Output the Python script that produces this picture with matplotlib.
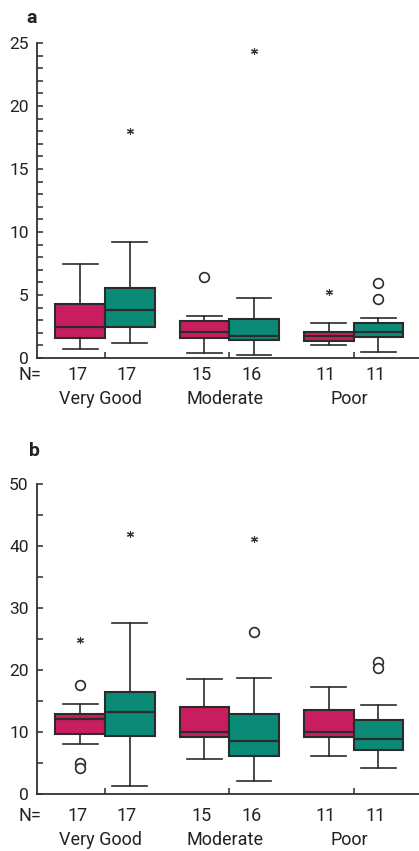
import numpy as np
import matplotlib
matplotlib.use("Agg")
import matplotlib.pyplot as plt
from matplotlib.ticker import MultipleLocator

plt.rcParams['font.family'] = ['Roboto', 'DejaVu Sans']

# Data
groups = ['Very Good', 'Moderate', 'Poor']
n_magenta = [17, 15, 11]
n_teal = [17, 16, 11]

# box stats per group: whisker low, Q1, median, Q3, whisker high
a_magenta = [[0.71, 1.61, 2.49, 4.26, 7.44],
             [0.40, 1.59, 2.09, 2.91, 3.36],
             [1.03, 1.32, 1.75, 2.09, 2.80]]
a_teal = [[1.22, 2.46, 3.81, 5.56, 9.20],
          [0.20, 1.43, 1.77, 3.07, 4.73],
          [0.48, 1.67, 2.09, 2.80, 3.15]]
b_magenta = [[8.12, 9.73, 12.1, 12.9, 14.5],
             [5.65, 9.14, 9.95, 14.0, 18.6],
             [6.18, 9.14, 9.95, 13.6, 17.3]]
b_teal = [[1.30, 9.35, 13.2, 16.5, 27.5],
          [2.15, 6.18, 8.60, 12.9, 18.7],
          [4.25, 7.04, 8.87, 12.0, 14.4]]

# outliers: box index (0..5 = VG-m, VG-t, Mod-m, Mod-t, Poor-m, Poor-t) and value
a_circle_box = [2, 5, 5]
a_circle_val = [6.43, 5.98, 4.68]
a_star_box = [1, 3, 4]
a_star_val = [18.0, 24.4, 5.2]
b_circle_box = [0, 0, 0, 3, 5, 5]
b_circle_val = [17.5, 4.95, 4.2, 26.1, 21.3, 20.3]
b_star_box = [0, 1, 3]
b_star_val = [24.8, 42.0, 41.2]

magenta = '#c81e5f'
teal = '#0b8a78'
dark = '#2b2b2b'


def draw_panel(ax, mag, tea, circ_box, circ_val, star_box, star_val,
               ymax, major, minor, letter, letter_off, n_off, cat_off):
    centers = np.arange(1, len(groups) + 1)
    pos = []
    stats = []
    colors = []
    for i, c in enumerate(centers):
        for s, col in ((mag[i], magenta), (tea[i], teal)):
            stats.append(dict(whislo=s[0], q1=s[1], med=s[2], q3=s[3],
                              whishi=s[4], fliers=[]))
            colors.append(col)
        pos += [c - 0.2, c + 0.2]
    pos = np.array(pos)

    bp = ax.bxp(stats, positions=pos, widths=0.4, patch_artist=True,
                showfliers=False,
                boxprops=dict(edgecolor=dark, linewidth=1.5),
                medianprops=dict(color=dark, linewidth=1.6),
                whiskerprops=dict(color=dark, linewidth=1.2),
                capprops=dict(color=dark, linewidth=1.2),
                capwidths=0.28)
    for patch, col in zip(bp['boxes'], colors):
        patch.set_facecolor(col)

    ax.plot(pos[circ_box], circ_val, 'o', ms=7, mfc='white', mec=dark,
            mew=1.2, ls='none')
    ax.plot(pos[star_box], star_val, marker=(6, 2, 0), ms=5, color='#333333',
            mew=0.8, ls='none')

    ax.set_xlim(0.453, 3.527)
    ax.set_ylim(0, ymax)
    ax.yaxis.set_major_locator(MultipleLocator(major))
    ax.yaxis.set_minor_locator(MultipleLocator(minor))
    ax.set_xticks(centers)
    ax.set_xticklabels([])
    ax.tick_params(axis='both', which='both', direction='in', length=4,
                   width=1.1, color=dark)
    ax.tick_params(axis='y', labelsize=12.5, pad=6, labelcolor='#222222')
    for side in ('top', 'right'):
        ax.spines[side].set_visible(False)
    for side in ('left', 'bottom'):
        ax.spines[side].set_linewidth(1.3)
        ax.spines[side].set_color('#333333')

    # N row and group names
    ax.annotate('N=', xy=(0, 0), xycoords='axes fraction',
                xytext=(-5, -n_off), textcoords='offset points',
                ha='center', va='center', fontsize=13, color='#222222')
    for p, n in zip(pos, [v for pair in zip(n_magenta, n_teal) for v in pair]):
        ax.annotate(str(n), xy=(p, 0), xycoords=('data', 'axes fraction'),
                    xytext=(-2, -n_off), textcoords='offset points',
                    ha='center', va='center', fontsize=13, color='#222222')
    for c, g in zip(centers, groups):
        ax.annotate(g, xy=(c, 0), xycoords=('data', 'axes fraction'),
                    xytext=(-3, -cat_off), textcoords='offset points',
                    ha='center', va='center', fontsize=13, color='#222222')

    ax.annotate(letter, xy=(0, 1), xycoords='axes fraction',
                xytext=letter_off, textcoords='offset points',
                ha='center', va='center', fontsize=14, fontweight='bold',
                color='#222222')


fig = plt.figure(figsize=(4.19, 8.51), dpi=100)
ax_a = fig.add_axes([0.0883, 0.5793, 0.9117, 0.3702])
ax_b = fig.add_axes([0.0883, 0.0670, 0.9117, 0.3643])

draw_panel(ax_a, a_magenta, a_teal, a_circle_box, a_circle_val,
           a_star_box, a_star_val, 25, 5, 1, 'a', (-4, 18), 12.5, 29.5)
draw_panel(ax_b, b_magenta, b_teal, b_circle_box, b_circle_val,
           b_star_box, b_star_val, 50, 10, 5, 'b', (-1.5, 24), 15.8, 33)

fig.savefig('out.png', dpi=100)
